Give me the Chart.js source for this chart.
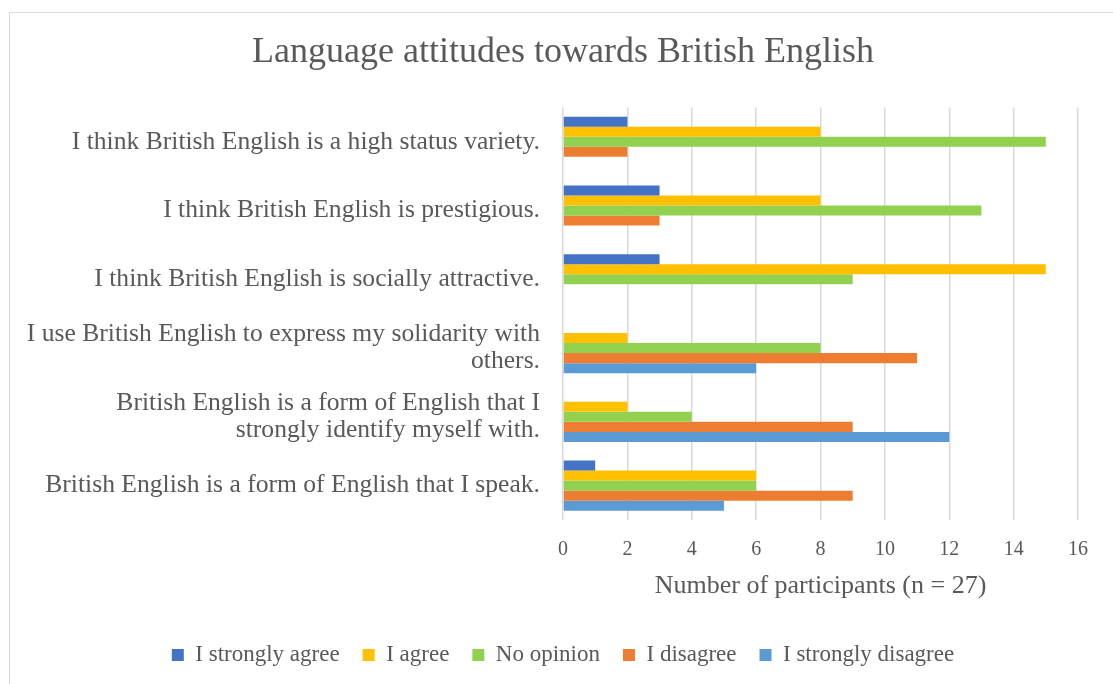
<!DOCTYPE html>
<html lang="en">
<head>
  <meta charset="UTF-8" />
  <title>Language attitudes towards British English</title>
  <style>
    body {
      margin: 0;
      background: #fff;
    }
    .wrap {
      position: relative;
      width: 1113px;
      height: 684px;
      overflow: hidden;
    }
    .frame {
      position: absolute;
      left: 9px;
      top: 12px;
      width: 1130px;
      height: 700px;
      border: 1px solid #d9d9d9;
    }
    canvas {
      position: absolute;
      left: 0;
      top: 0;
    }
  </style>
</head>
<body>

<div class="wrap">
  <div class="frame"></div>
  <canvas id="chart" width="1113" height="684"></canvas>
</div>

<script src="https://cdn.jsdelivr.net/npm/chart.js"></script>
<script>
  const statements = [
    'I think British English is a high status variety.',
    'I think British English is prestigious.',
    'I think British English is socially attractive.',
    ['I use British English to express my solidarity with', 'others.'],
    ['British English is a form of English that I', 'strongly identify myself with.'],
    'British English is a form of English that I speak.'
  ];

  const stronglyAgree    = [2, 3, 3, 0, 0, 1];
  const agree            = [8, 8, 15, 2, 2, 6];
  const noOpinion        = [15, 13, 9, 8, 4, 6];
  const disagree         = [2, 3, 0, 11, 9, 9];
  const stronglyDisagree = [0, 0, 0, 6, 12, 5];

  const serif = "'Liberation Serif', 'DejaVu Serif', serif";
  const grey = '#595959';

  function series(label, data, color) {
    return {
      label: label,
      data: data,
      backgroundColor: color,
      borderWidth: 0,
      categoryPercentage: 0.73,
      barPercentage: 1.0
    };
  }

  // the long statements run past the left layout padding, so widen the
  // y axis box (and its label clip) back to the canvas edge
  const wideLabels = {
    id: 'wideLabels',
    afterLayout(chart) {
      chart.scales.y.left = 0;
    }
  };

  new Chart(document.getElementById('chart'), {
    type: 'bar',
    data: {
      labels: statements,
      datasets: [
        series('I strongly agree', stronglyAgree, '#4472c4'),
        series('I agree', agree, '#ffc000'),
        series('No opinion', noOpinion, '#92d050'),
        series('I disagree', disagree, '#ed7d31'),
        series('I strongly disagree', stronglyDisagree, '#5b9bd5')
      ]
    },
    plugins: [wideLabels],
    options: {
      indexAxis: 'y',
      responsive: false,
      animation: false,
      layout: {
        padding: { top: 0, left: 48, right: 35, bottom: 7.5 }
      },
      plugins: {
        title: {
          display: true,
          text: 'Language attitudes towards British English',
          color: grey,
          font: { family: serif, size: 36, weight: 'normal' },
          padding: { top: 30.5, bottom: 33.7 }
        },
        legend: {
          position: 'bottom',
          labels: {
            color: grey,
            font: { family: serif, size: 23 },
            boxWidth: 12,
            boxHeight: 12,
            padding: 23
          }
        },
        tooltip: { enabled: false }
      },
      scales: {
        x: {
          min: 0,
          max: 16,
          ticks: {
            stepSize: 2,
            color: grey,
            font: { family: serif, size: 20 },
            padding: 17.5
          },
          grid: {
            color: '#d9d9d9',
            lineWidth: 1.5,
            drawTicks: false
          },
          border: { display: false },
          title: {
            display: true,
            text: 'Number of participants (n = 27)',
            color: grey,
            font: { family: serif, size: 26 },
            padding: { top: 0, bottom: 19 }
          },
          afterFit: function(scale) {
            scale.height = 100.5;
          }
        },
        y: {
          ticks: {
            color: grey,
            font: { family: serif, size: 25.6, lineHeight: 1.07 },
            padding: 23
          },
          grid: { display: false, drawTicks: false },
          border: { display: false },
          afterFit: function(scale) {
            scale.width = 515;
          }
        }
      }
    }
  });
</script>
</body>
</html>
